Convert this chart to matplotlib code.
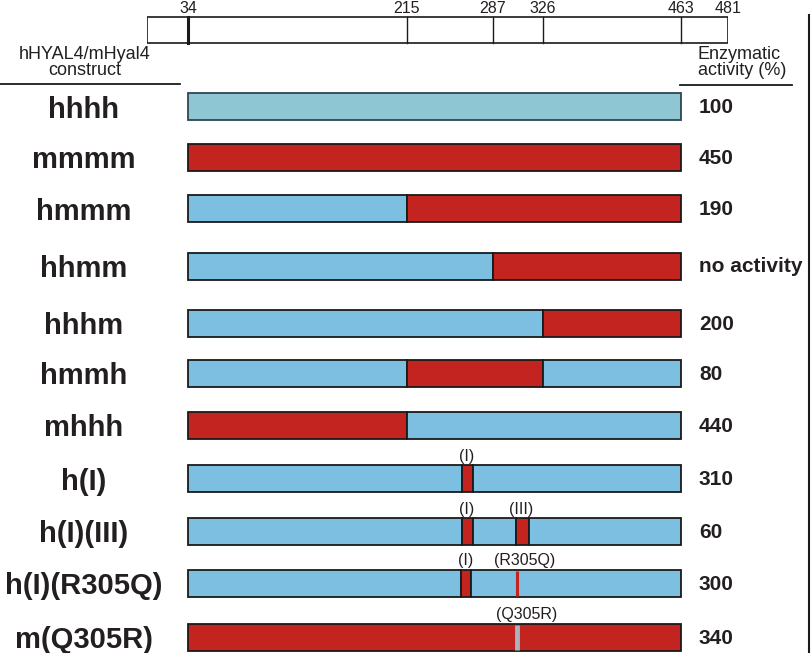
import matplotlib.pyplot as plt
import numpy as np

plt.rcParams['font.family'] = ['Liberation Sans', 'DejaVu Sans']

constructs = ['hhhh', 'mmmm', 'hmmm', 'hhmm', 'hhhm', 'hmmh', 'mhhh',
              'h(I)', 'h(I)(III)', 'h(I)(R305Q)', 'm(Q305R)']
activity = ['100', '450', '190', 'no activity', '200', '80', '440',
            '310', '60', '300', '340']
ruler_ticks = [34, 215, 287, 326, 463, 481]
ruler_start = 1

# segments per construct: (start residue, end residue, species)
segments = [
    [(34, 463, 'h')],
    [(34, 463, 'm')],
    [(34, 215, 'h'), (215, 463, 'm')],
    [(34, 287, 'h'), (287, 463, 'm')],
    [(34, 326, 'h'), (326, 463, 'm')],
    [(34, 215, 'h'), (215, 326, 'm'), (326, 463, 'h')],
    [(34, 215, 'm'), (215, 463, 'h')],
    [(34, 261, 'h'), (261, 270, 'm'), (270, 463, 'h')],
    [(34, 261, 'h'), (261, 270, 'm'), (270, 305, 'h'), (305, 315, 'm'), (315, 463, 'h')],
    [(34, 260, 'h'), (260, 269, 'm'), (269, 463, 'h')],
    [(34, 463, 'm')],
]
# point mutations: (row, residue, kind)
point_muts = [(9, 306, 'm'), (10, 306, 'h')]
# small labels above bars: (row, residue, text)
region_labels = [(7, 265, '(I)'), (8, 265, '(I)'), (8, 309, '(III)'),
                 (9, 264, '(I)'), (9, 312, '(R305Q)'), (10, 313, '(Q305R)')]

# layout (pixels)
W, H = 812, 653
row_y = [106.5, 157, 208.5, 266, 323, 373, 425, 478.5, 531.5, 583, 637]
bar_h = 27
# schematic (non-linear) positions of ruler residues
sch_res = [1, 34, 215, 287, 326, 463, 481]
sch_pos = [147, 188, 407, 493, 543, 681, 728]

col = {'h': '#7cbfe0', 'm': '#c42420'}
col_hhhh = '#8fc6d4'
col_gray = '#a9b4bc'
txt_col = '#231f20'

fig = plt.figure(figsize=(W / 100, H / 100), dpi=100)
ax = fig.add_axes([0, 0, 1, 1])
ax.set_xlim(0, W)
ax.set_ylim(H, 0)
ax.axis('off')

ax2 = fig.add_axes([sch_pos[0] / W, 0, (sch_pos[-1] - sch_pos[0]) / W, 1])
ax2.set_xscale('function', functions=(lambda x: np.interp(x, sch_res, sch_pos),
                                      lambda x: np.interp(x, sch_pos, sch_res)))
ruler_end = ruler_ticks[-1]
ax2.set_xlim(ruler_start, ruler_end)
ax2.set_ylim(H, 0)
ax2.patch.set_alpha(0)
ax2.axis('off')

# ruler
ax2.barh(30, ruler_end - ruler_start, left=ruler_start, height=26,
         color='white', edgecolor='#1a1a1a', linewidth=1.2)
for t in ruler_ticks:
    if t != ruler_end:
        ax2.plot([t, t], [17, 43], color='#1a1a1a', lw=2.2 if t == 34 else 1.0)
    ax2.text(t, 13, str(t), ha='center', va='baseline', fontsize=11.5, color=txt_col)

# construct bars
for i, segs in enumerate(segments):
    for s, e, sp in segs:
        if constructs[i] == 'hhhh':
            fc, ec = col_hhhh, '#2e4650'
        else:
            fc, ec = col[sp], '#1a1a1a'
        ax2.barh(row_y[i], e - s, left=s, height=bar_h, color=fc,
                 edgecolor=ec, linewidth=1.3)

for r, res, kind in point_muts:
    c = col['m'] if kind == 'm' else col_gray
    ax2.plot([res, res], [row_y[r] - bar_h / 2 + 1, row_y[r] + bar_h / 2 - 1],
             color=c, lw=2.2 if kind == 'm' else 3.5, solid_capstyle='butt')

for r, res, txt in region_labels:
    ax2.text(res, row_y[r] - bar_h / 2 - 4, txt, ha='center', va='baseline',
             fontsize=11.5, color=txt_col)

# left / right labels
for i, name in enumerate(constructs):
    ax.text(84, row_y[i] + 11, name, ha='center', va='baseline',
            fontsize=21, fontweight='bold', color=txt_col)
    ax.text(699, row_y[i] + 6.5, activity[i], ha='left', va='baseline',
            fontsize=15, fontweight='bold', color=txt_col)

ax.text(85, 59, 'hHYAL4/mHyal4', ha='center', va='baseline', fontsize=13, color=txt_col)
ax.text(85, 75, 'construct', ha='center', va='baseline', fontsize=13, color=txt_col)
ax.text(698, 59, 'Enzymatic', ha='left', va='baseline', fontsize=13, color=txt_col)
ax.text(698, 75, 'activity (%)', ha='left', va='baseline', fontsize=13, color=txt_col)
ax.plot([0, 180], [83.5, 83.5], color='#1a1a1a', lw=1.3)
ax.plot([680, 792], [85, 85], color='#1a1a1a', lw=1.3)
ax.plot([809, 809], [15, H], color='#1a1a1a', lw=1.5)

fig.savefig('out.png', dpi=100)
